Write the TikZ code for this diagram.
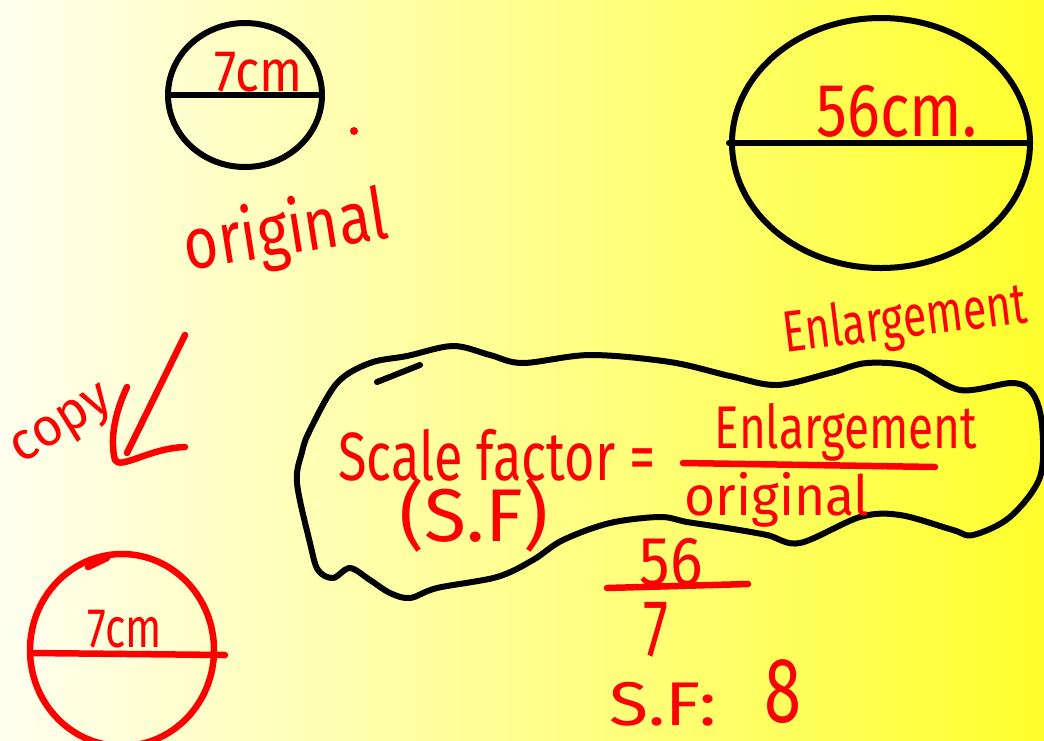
\documentclass[tikz,border=0pt]{standalone}
\usepackage{graphicx}
\usepackage{fontspec}
\setmainfont{Fira Sans}
\newcommand\hw[3]{\resizebox*{#1pt}{#2pt}{#3}}
\definecolor{pen}{RGB}{255,0,0}
\definecolor{bgL}{RGB}{255,255,240}
\definecolor{bgR}{RGB}{255,255,45}
\begin{document}
\begin{tikzpicture}[x=1pt,y=-1pt,
  ink/.style={draw=black,line width=6pt,line cap=round,line join=round},
  redink/.style={draw=pen,line width=6.5pt,line cap=round,line join=round},
  hand/.style={text=pen,inner sep=0pt,outer sep=0pt,anchor=center}]
\useasboundingbox (0,0) rectangle (1044,740);
\shade[left color=bgL,right color=bgR] (0,0) rectangle (1044,740);

% top-left original circle
\draw[ink] (245,95) ellipse [x radius=77, y radius=72];
\coordinate (d1a) at (170,95); \coordinate (d1b) at (318,95);
\draw[ink] (d1a) -- (d1b);
\node[hand] (t7) at (259,72) {\hw{88}{40}{7cm}};
\fill[pen] (354,131) circle (4);

% top-right enlargement ellipse
\draw[ink] (881,143) ellipse [x radius=149, y radius=125];
\coordinate (d2a) at (729,143); \coordinate (d2b) at (1030,143);
\draw[ink] (d2a) -- (d2b);
\node[hand] (t56) at (897,111) {\hw{160}{52}{56cm.}};

% labels
\node[hand,rotate=9] (torig) at (286,234) {\hw{205}{72}{original}};
\node[hand,rotate=7] (tenl) at (905,322) {\hw{245}{56}{Enlargement}};
\node[hand,rotate=32] (tcopy) at (64,428) {\hw{110}{40}{copy}};

% copy arrow
\coordinate (a1) at (185,335); \coordinate (a2) at (127,453);
\coordinate (h1) at (115,460); \coordinate (h2) at (185,447);
\draw[redink] (a1) -- (a2);
\draw[redink] (127,387) .. controls (114,415) and (110,440) .. (h1)
  .. controls (120,470) and (150,448) .. (h2);

% bottom-left copy circle
\draw[redink] (122,650) ellipse [x radius=92, y radius=96];
\draw[redink] (88,567) -- (107,558);
\coordinate (d3a) at (32,653); \coordinate (d3b) at (225,655);
\draw[redink] (d3a) -- (d3b);
\node[hand] (t7c) at (125,629) {\hw{74}{38}{7cm}};

% wavy blob
\draw[ink] plot[smooth cycle,tension=0.55] coordinates {
 (337,383) (370,363) (407,356) (453,346) (490,355) (523,363) (590,355)
 (670,362) (730,376) (777,385) (830,373) (867,363) (913,367) (960,390)
 (1013,383) (1033,394) (1042,425) (1040,477) (1010,517) (973,535)
 (953,530) (900,515) (860,517) (800,543) (767,535) (727,528) (687,522)
 (660,517) (610,523) (563,540) (533,560) (497,577) (437,588) (410,598)
 (390,593) (370,580) (350,568) (333,578) (318,570) (310,543) (297,483)
 (302,452) (310,430)};
\draw[ink] (377,382) -- (420,365);

% formula
\node[hand] (tsf) at (497,455) {\hw{317}{52}{Scale factor =}};
\node[hand] (tSF) at (474,515) {\hw{148}{74}{(S.F)}};
\node[hand] (tnum) at (846,432) {\hw{262}{58}{Enlargement}};
\coordinate (f1) at (683,463); \coordinate (f2) at (935,467);
\draw[redink] (f1) -- (f2);
\node[hand] (tden) at (777,500) {\hw{185}{55}{original}};

% calculation
\node[hand] (t56b) at (671,562) {\hw{63}{48}{56}};
\coordinate (g1) at (607,588); \coordinate (g2) at (748,584);
\draw[redink] (g1) -- (g2);
\node[hand] (t7b) at (656,630) {\hw{25}{55}{7}};
\node[hand] (tsfb) at (663,704) {\hw{107}{44}{S.F:}};
\node[hand] (t8) at (783,692) {\hw{37}{64}{8}};
\end{tikzpicture}
\end{document}
